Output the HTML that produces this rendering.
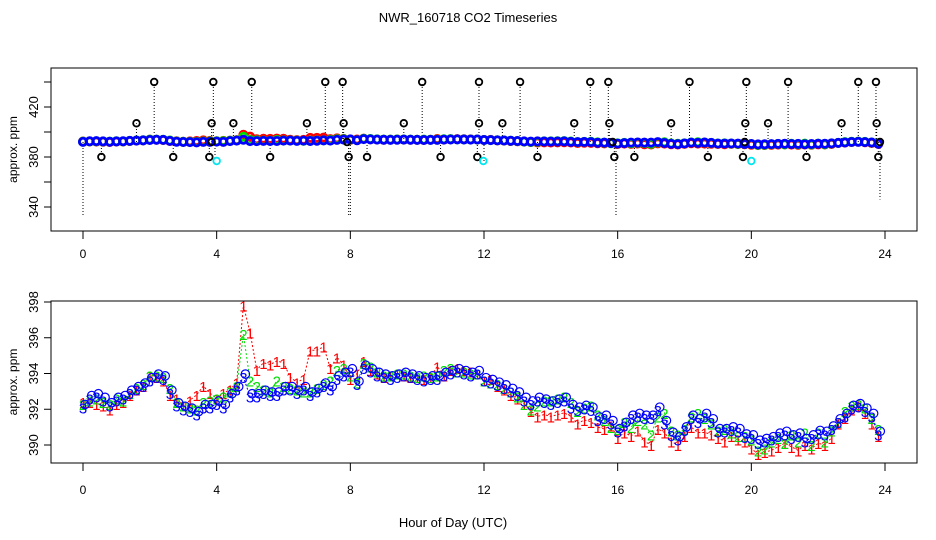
<!DOCTYPE html>
<html><head><meta charset="utf-8"><style>
html,body{margin:0;padding:0;background:#fff;}
svg{display:block;font-family:"Liberation Sans",sans-serif;}
</style></head><body>
<svg id="chart" width="936" height="540" viewBox="0 0 936 540">
<text x="468" y="22" text-anchor="middle" font-size="13">NWR_160718  CO2 Timeseries</text>
<text x="453" y="527" text-anchor="middle" font-size="13">Hour of Day (UTC)</text>
<g id="top"></g>
<g id="bot"></g>
</svg>
<script>
const xTicks=[0,4,8,12,16,20,24];
const topYTicks=[340,360,380,400,420,440];
const topYLabels=["340","","380","","420",""];
const botYTicks=[390,392,394,396,398];
const step=0.2;
const series3=[392.1,392.6,392.7,392.5,392.2,392.5,392.6,392.9,393.1,393.3,
393.6,393.8,393.7,392.9,392.2,392.0,391.9,391.7,392.1,392.1,
392.3,392.1,392.7,393.1,393.8,392.7,392.7,392.9,392.8,392.8,
393.1,393.1,392.9,393.1,392.8,393.0,393.3,393.1,393.7,393.9,
394.1,393.4,394.3,394.1,393.9,393.8,393.7,393.8,393.9,393.8,
393.7,393.6,393.7,393.7,393.9,394.0,394.1,394.0,393.9,394.0,
393.6,393.5,393.35,393.2,393.0,392.8,392.5,392.3,392.5,392.4,
392.3,392.4,392.5,392.1,391.95,392.05,391.95,391.4,391.5,391.2,
390.75,391.1,391.5,391.6,391.5,391.5,391.95,391.2,390.55,390.3,
390.85,391.5,391.3,391.6,391.3,390.75,390.75,390.85,390.75,390.45,
390.4,390.1,390.2,390.3,390.5,390.6,390.4,390.5,390.2,390.4,
390.65,390.6,390.9,391.3,391.6,392.05,392.15,391.9,391.6,390.6];
const series2=[392.3,392.5,392.6,392.4,392.3,392.6,392.5,392.9,393.2,393.4,
393.9,393.9,393.8,393.2,392.4,392.2,392.1,392.0,392.4,392.5,
392.6,392.7,393.0,393.3,396.2,393.6,393.3,393.1,393.0,393.6,
393.3,393.2,393.1,393.0,393.0,393.2,393.4,393.6,394.2,394.3,
393.9,393.5,394.6,394.4,394.1,393.9,393.9,394.0,394.0,393.9,
393.8,393.9,393.8,393.9,394.2,394.3,394.1,394.1,394.0,394.0,
393.6,393.5,393.4,393.2,393.0,392.7,392.3,392.0,392.2,392.5,
392.5,392.6,392.7,392.4,391.9,392.1,392.2,391.7,391.4,391.0,
390.9,391.3,391.0,391.4,391.2,390.6,391.6,391.8,390.8,390.6,
390.9,391.6,391.8,391.5,391.2,390.8,390.9,390.7,390.5,390.5,
390.3,389.7,389.8,390.2,390.4,390.1,390.6,390.2,390.7,390.0,
390.7,390.2,390.8,391.3,391.9,392.2,392.3,392.1,391.5,390.9];
const series1=[392.4,392.4,392.3,392.2,392.0,392.3,392.4,392.8,393.1,393.3,
393.9,393.8,393.6,392.8,392.6,392.2,392.5,392.8,393.3,392.9,
392.6,392.9,393.1,393.5,397.8,396.3,394.2,394.6,394.5,394.7,
394.6,393.8,393.5,393.7,395.3,395.3,395.5,394.3,394.9,394.5,
393.7,394.0,394.7,394.2,394.0,393.8,393.9,394.0,393.9,393.8,
393.8,393.7,393.8,394.4,393.9,394.2,394.3,394.2,394.1,394.0,
393.6,393.7,393.3,393.1,392.8,392.6,392.3,391.9,391.6,391.7,
391.6,391.7,391.8,391.6,391.2,391.4,391.3,391.0,390.9,391.1,
390.4,390.7,390.5,390.8,390.2,390.0,390.9,390.7,390.2,390.0,
390.5,391.0,390.7,390.7,390.6,390.4,390.2,390.5,390.3,390.2,
389.8,389.5,389.6,389.7,389.9,390.1,389.9,389.7,390.0,389.8,
390.1,390.0,390.4,391.2,391.5,392.0,392.2,391.8,391.2,390.5];
const outHours=[0.55,1.6,2.13,2.7,3.78,3.85,3.9,4.5,5.05,5.6,6.7,7.25,7.77,7.8,7.95,8.5,9.6,10.15,10.7,11.8,11.85,11.85,12.55,13.08,13.6,14.7,15.18,15.72,15.75,15.9,16.5,17.6,18.15,18.7,19.75,19.82,19.85,20.5,21.1,21.65,22.7,23.2,23.73,23.75,23.8,3.85,7.9,15.85,19.8,23.85];
const outValues=[380,407,440,380,380,407,440,407,440,380,407,440,440,407,380,380,407,440,380,380,407,440,407,440,380,407,440,440,407,380,380,407,440,380,380,407,440,407,440,380,407,440,440,407,380,392,392,392,392,392];
const flagHours=[4.0,11.98,20.0];
const flagValues=[376.8,376.8,376.8];
const dropHours=[0.0,7.95,8.0,15.95,23.85,3.95,5.0,12.0];
const dropMins=[332,332,332,332,346,378,400,376];

const NS="http://www.w3.org/2000/svg";
function mk(tag,attrs,parent){const e=document.createElementNS(NS,tag);for(const k in attrs)e.setAttribute(k,attrs[k]);parent.appendChild(e);return e;}
const X0=83,X1=885;
function xs(h){return X0+(X1-X0)*h/24;}
function panel(g,top,bot,yLow,yHigh,vLow,vHigh,ticks,labels,labY){
  const ys=v=>yLow+(yHigh-yLow)*(v-vLow)/(vHigh-vLow);
  const box=mk('rect',{x:51,y:top,width:866,height:bot-top,fill:'none',stroke:'#000','stroke-width':1},g);
  
  
  const xa=mk('line',{x1:xs(0),x2:xs(24),y1:bot,y2:bot,stroke:'#000'},g);
  
  
  xTicks.forEach(t=>{
    const l=mk('line',{x1:xs(t),x2:xs(t),y1:bot,y2:bot+8,stroke:'#000'},g);
    
    
    const tx=mk('text',{x:xs(t),y:labY,'text-anchor':'middle','font-size':12},g);
    tx.textContent=t;
    
    
  });
  ticks.forEach((t,i)=>{
    const l=mk('line',{x1:44,x2:51,y1:ys(t),y2:ys(t),stroke:'#000'},g);
    
    
    if(labels[i]){
      const tx=mk('text',{x:0,y:0,'text-anchor':'middle','font-size':13,transform:`translate(38,${ys(t)}) rotate(-90)`},g);
      tx.textContent=labels[i];
      
      
    }
  });
  const yl=mk('text',{x:0,y:0,'text-anchor':'middle','font-size':12,transform:`translate(17,${(top+bot)/2}) rotate(-90)`},g);
  yl.textContent='approx. ppm';
  
  
  return ys;
}
const T=document.getElementById('top'), B=document.getElementById('bot');
const ysT=panel(T,68,231,207,82,340,440,topYTicks,topYLabels,258);
const ysB=panel(B,301,463,445,302,390,398,botYTicks,botYTicks.map(String),494);

// top panel
dropHours.forEach((h,i)=>{
  const l=mk('line',{x1:xs(h),x2:xs(h),y1:ysT(392),y2:ysT(dropMins[i]),stroke:'#000','stroke-dasharray':'1,2'},T);
  
  
});
outHours.forEach((h,i)=>{
  const l=mk('line',{x1:xs(h),x2:xs(h),y1:ysT(392),y2:ysT(outValues[i]),stroke:'#000','stroke-dasharray':'1,2'},T);
  
  
});
[[series1,'#ff0000'],[series2,'#00dd00'],[series3,'#0000ff']].forEach(([s,c])=>{
  s.forEach((v,i)=>{
    const ci=mk('circle',{cx:xs(i*step),cy:ysT(v),r:3.6,fill:'none',stroke:c,'stroke-width':2.8},T);
    
    
  });
});
outHours.forEach((h,i)=>{
  const ci=mk('circle',{cx:xs(h),cy:ysT(outValues[i]),r:3.3,fill:'none',stroke:'#000','stroke-width':1.8},T);
  
  
});
flagHours.forEach((h,i)=>{
  const ci=mk('circle',{cx:xs(h),cy:ysT(flagValues[i]),r:3.3,fill:'none',stroke:'#00e5ee','stroke-width':1.8},T);
  
  
});

// bottom panel
[[series1,'#ff0000','1'],[series2,'#00dd00','2'],[series3,'#0000ff','3']].forEach(([s,c,ch])=>{
  const pts=s.map((v,i)=>xs(i*step)+','+ysB(v)).join(' ');
  const pl=mk('polyline',{points:pts,fill:'none',stroke:c,'stroke-width':1,'stroke-dasharray':'2,2'},B);
  
  
  s.forEach((v,i)=>{
    if(ch==='3'){
      const ci=mk('circle',{cx:xs(i*step)+2,cy:ysB(v)-3,r:4.2,fill:'none',stroke:c,'stroke-width':1.2},B);
      
      
    }
    const t=mk('text',{x:xs(i*step),y:ysB(v)+6,'text-anchor':'middle','font-size':15,fill:c},B);
    t.textContent=ch;
    
    
  });
});
</script>
</body></html>
